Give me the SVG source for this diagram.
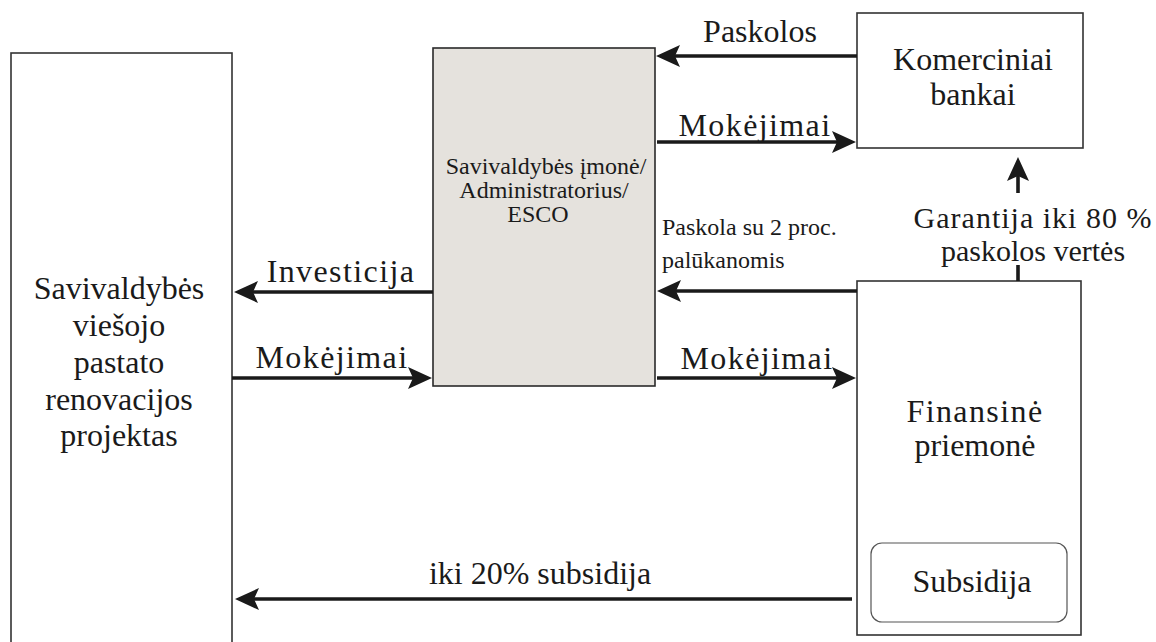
<svg xmlns="http://www.w3.org/2000/svg" width="1156" height="642" viewBox="0 0 1156 642">
  <defs>
    <style>
      .box { fill: #ffffff; stroke: #333333; stroke-width: 1.6; }
      .esco { fill: #e5e2dd; stroke: #2a2a2a; stroke-width: 1.6; }
      .inner { fill: #ffffff; stroke: #555555; stroke-width: 1.2; }
      text { font-family: "Liberation Serif", "Times New Roman", serif; fill: #1a1a1a; }
      .lbl { font-size: 32px; }
      .note { font-size: 30px; }
      .small { font-size: 24px; }
      .mid { text-anchor: middle; }
      .wide { letter-spacing: 1.4px; }
      .flow { fill: none; stroke: #1a1a1a; stroke-width: 3.6; marker-end: url(#head); }
    </style>
    <marker id="head" markerUnits="userSpaceOnUse" markerWidth="40" markerHeight="40" refX="0" refY="0" orient="auto" overflow="visible">
      <path d="M10,0 L-14,-11 L-9,0 L-14,11 Z" fill="#1a1a1a"/>
    </marker>
  </defs>

  <rect width="1156" height="642" fill="#ffffff"/>

  <!-- municipal public building renovation project -->
  <g id="node-projektas">
    <rect class="box" x="11" y="53" width="221" height="600"/>
    <text class="lbl mid" x="119" y="299">Savivaldybės</text>
    <text class="lbl mid" x="119" y="336">viešojo</text>
    <text class="lbl mid" x="119" y="373">pastato</text>
    <text class="lbl mid" x="119" y="410">renovacijos</text>
    <text class="lbl mid" x="119" y="446">projektas</text>
  </g>

  <!-- municipal company / administrator / ESCO -->
  <g id="node-esco">
    <rect class="esco" x="433" y="48" width="222" height="338"/>
    <text class="small mid" x="546" y="174">Savivaldybės įmonė/</text>
    <text class="small mid" x="544" y="198">Administratorius/</text>
    <text class="small mid" x="538" y="222">ESCO</text>
  </g>

  <!-- commercial banks -->
  <g id="node-bankai">
    <rect class="box" x="857" y="13" width="226" height="135"/>
    <text class="lbl mid" x="973" y="70">Komerciniai</text>
    <text class="lbl mid" x="973" y="105">bankai</text>
  </g>

  <!-- financial instrument with subsidy component -->
  <g id="node-priemone">
    <rect class="box" x="857" y="281" width="224" height="354"/>
    <text class="lbl mid wide" x="975" y="422">Finansinė</text>
    <text class="lbl mid" x="975" y="456">priemonė</text>
    <rect class="inner" x="871" y="543" width="196" height="79" rx="11"/>
    <text class="lbl mid" x="972" y="592">Subsidija</text>
  </g>

  <g id="connectors">
    <!-- loans from banks -->
    <line class="flow" x1="857" y1="56" x2="666" y2="56"/>
    <text class="lbl mid" x="760" y="42">Paskolos</text>

    <!-- payments to banks -->
    <line class="flow" x1="657" y1="142" x2="846" y2="142"/>
    <text class="lbl mid wide" x="755" y="136">Mokėjimai</text>

    <!-- guarantee, broken around its label -->
    <path class="flow" d="M1018,281 V265 M1018,193 V167"/>
    <text class="note mid" x="1033" y="228" letter-spacing="1">Garantija iki 80 %</text>
    <text class="note mid" x="1033" y="261">paskolos vertės</text>

    <!-- 2 % loan from the financial instrument -->
    <line class="flow" x1="857" y1="291" x2="667" y2="291"/>
    <text class="small" x="662" y="235">Paskola su 2 proc.</text>
    <text class="small" x="662" y="268">palūkanomis</text>

    <!-- investment into the project -->
    <line class="flow" x1="433" y1="292" x2="244" y2="292"/>
    <text class="lbl mid wide" x="341" y="282">Investicija</text>

    <!-- payments from the project -->
    <line class="flow" x1="232" y1="378" x2="422" y2="378"/>
    <text class="lbl mid wide" x="332" y="368">Mokėjimai</text>

    <!-- payments to the financial instrument -->
    <line class="flow" x1="657" y1="378" x2="846" y2="378"/>
    <text class="lbl mid wide" x="757" y="369">Mokėjimai</text>

    <!-- subsidy to the project -->
    <line class="flow" x1="852" y1="599" x2="245" y2="599"/>
    <text class="lbl mid" x="540" y="584">iki 20% subsidija</text>
  </g>
</svg>
